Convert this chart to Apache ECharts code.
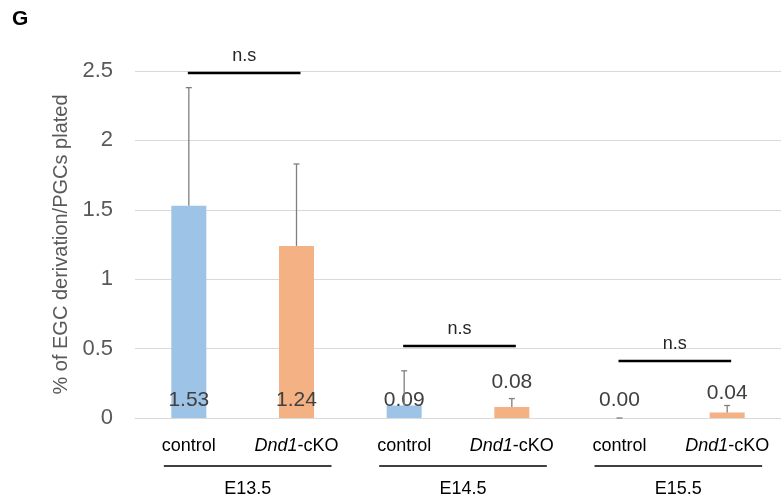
<!DOCTYPE html>
<html>
<head>
<meta charset="utf-8">
<script src="https://cdn.jsdelivr.net/npm/echarts@6/dist/echarts.min.js"></script>
<style>html,body{margin:0;padding:0;background:#fff;}#c{width:781px;height:499px;}</style>
</head>
<body>
<div id="c"></div>
<script>
// ---- data ----
var categories = ['control', 'Dnd1-cKO', 'control', 'Dnd1-cKO', 'control', 'Dnd1-cKO'];
var groups = ['E13.5', 'E14.5', 'E15.5'];
var groupSpans = [[0, 1], [2, 3], [4, 5]];
var means = [1.53, 1.24, 0.09, 0.08, 0.00, 0.04];
var errorsUp = [0.85, 0.59, 0.25, 0.06, 0.00, 0.05];
var sigPairs = [[0, 1], [2, 3], [4, 5]];
var sigHeights = [2.486, 0.519, 0.41];
var sigLabels = ['n.s', 'n.s', 'n.s'];
var yTicks = [0, 0.5, 1, 1.5, 2, 2.5];

// ---- styles ----
var FONT = '"Liberation Sans", Arial, sans-serif';
var colors = ['#9dc3e6', '#f4b183'];
var labelTop = { 3: 14, 5: 9 }; // items whose label sits above the bar (distance)

var barData = means.map(function (v, i) {
  var item = { value: v, itemStyle: { color: colors[i % 2] } };
  if (labelTop[i] !== undefined) {
    item.label = { position: 'top', distance: labelTop[i] };
  }
  return item;
});

var chart = echarts.init(document.getElementById('c'));
chart.setOption({
  animation: false,
  backgroundColor: '#fff',
  textStyle: { fontFamily: FONT },
  graphic: [{ type: 'text', left: 12, top: 9, style: { text: 'G', font: 'bold 21px ' + FONT, fill: '#000' } }],
  grid: { left: 135, top: 71, width: 654, height: 347 },
  xAxis: {
    type: 'category',
    data: categories,
    axisLine: { show: true, lineStyle: { color: '#d9d9d9', width: 1 } },
    axisTick: { show: false },
    axisLabel: {
      interval: 0,
      margin: 19,
      fontSize: 18,
      color: '#000',
      formatter: function (v) {
        if (v.indexOf('Dnd1') === 0) return '{i|Dnd1}{n|' + v.slice(4) + '}';
        return '{n|' + v + '}';
      },
      rich: {
        i: { fontStyle: 'italic', fontSize: 18, color: '#000', fontFamily: FONT },
        n: { fontSize: 18, color: '#000', fontFamily: FONT }
      }
    }
  },
  yAxis: {
    type: 'value',
    min: yTicks[0],
    max: yTicks[yTicks.length - 1],
    interval: 0.5,
    name: '% of EGC derivation/PGCs plated',
    nameLocation: 'middle',
    nameGap: 56,
    nameTextStyle: { fontSize: 20, color: '#595959', fontFamily: FONT },
    axisLine: { show: false },
    axisTick: { show: false },
    axisLabel: { fontSize: 22, color: '#595959', margin: 22 },
    splitLine: { lineStyle: { color: '#d9d9d9', width: 1 } }
  },
  series: [
    {
      type: 'bar',
      data: barData,
      barWidth: 35,
      label: {
        show: true,
        position: 'insideBottom',
        distance: 7,
        fontSize: 21,
        color: '#404040',
        formatter: function (p) { return p.value.toFixed(2); }
      },
      z: 2
    },
    {
      type: 'custom',
      clip: false,
      z: 3,
      data: means.map(function (m, i) { return [i, m, m + errorsUp[i]]; }),
      encode: { x: 0, y: [1, 2] },
      renderItem: function (params, api) {
        var base = api.coord([api.value(0), api.value(1)]);
        var top = api.coord([api.value(0), api.value(2)]);
        var st = { stroke: '#7f7f7f', lineWidth: 1.3 };
        return {
          type: 'group',
          children: [
            { type: 'line', shape: { x1: base[0], y1: base[1], x2: top[0], y2: top[1] }, style: st },
            { type: 'line', shape: { x1: top[0] - 3, y1: top[1], x2: top[0] + 3, y2: top[1] }, style: st }
          ]
        };
      }
    },
    {
      type: 'custom',
      clip: false,
      z: 4,
      data: sigPairs.map(function (p, i) { return [p[0], p[1], sigHeights[i], i]; }),
      encode: { x: [0, 1], y: 2 },
      renderItem: function (params, api) {
        var a = api.coord([api.value(0), api.value(2)]);
        var b = api.coord([api.value(1), api.value(2)]);
        var x1 = a[0] - 1, x2 = b[0] + 4;
        return {
          type: 'group',
          children: [
            { type: 'line', shape: { x1: x1, y1: a[1], x2: x2, y2: a[1] }, style: { stroke: '#000', lineWidth: 2.5 } },
            { type: 'text', style: { text: sigLabels[api.value(3)], x: (x1 + x2) / 2, y: a[1] - 17, align: 'center', verticalAlign: 'middle', font: '18px ' + FONT, fill: '#262626' } }
          ]
        };
      }
    },
    {
      type: 'custom',
      clip: false,
      z: 4,
      data: groupSpans.map(function (s, i) { return [s[0], s[1], 0, i]; }),
      encode: { x: [0, 1], y: 2 },
      renderItem: function (params, api) {
        var a = api.coord([api.value(0), 0]);
        var b = api.coord([api.value(1), 0]);
        var x1 = a[0] - 25, x2 = b[0] + 35;
        var y = a[1] + 48;
        return {
          type: 'group',
          children: [
            { type: 'line', shape: { x1: x1, y1: y, x2: x2, y2: y }, style: { stroke: '#000', lineWidth: 1.5 } },
            { type: 'text', style: { text: groups[api.value(3)], x: (x1 + x2) / 2, y: y + 23, align: 'center', verticalAlign: 'middle', font: '18px ' + FONT, fill: '#000' } }
          ]
        };
      }
    }
  ]
});
</script>
</body>
</html>
